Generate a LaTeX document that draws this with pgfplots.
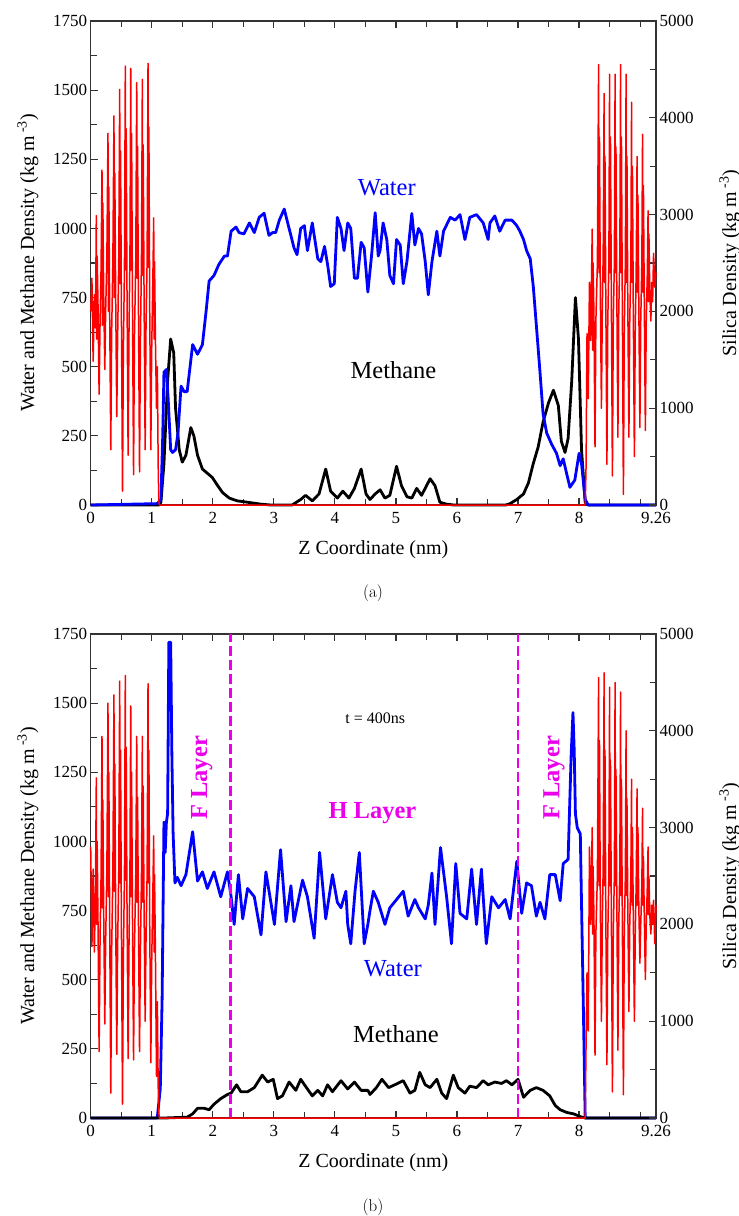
\documentclass[border=0pt]{standalone}
\usepackage{fontspec}
\setmainfont{Liberation Serif}
\newfontfamily\lmfont{Latin Modern Roman}
\usepackage{pgfplots}
\pgfplotsset{compat=1.18}
\definecolor{mag}{RGB}{235,0,235}
\definecolor{wblue}{RGB}{0,0,255}
\definecolor{sred}{RGB}{255,0,0}
\newcommand\fs[1]{\fontsize{#1}{#1}\selectfont}
\pgfplotsset{
 common/.style={scale only axis, width=565.3pt, height=484pt, xmin=0, xmax=9.26,
   clip=false, scaled ticks=false, tick align=inside,
   major tick length=7pt, minor tick length=6pt,
   every tick/.style={line width=1.2pt, black!80},
   tick label style={font=\fs{17}},
   /pgf/number format/assume math mode=true, /pgf/number format/1000 sep={}},
 leftax/.style={common, ymin=0, ymax=1750,
   xtick={0,1,2,3,4,5,6,7,8,9.26},
   minor xtick={0.5,1.5,2.5,3.5,4.5,5.5,6.5,7.5,8.5,9},
   ytick={0,250,500,750,1000,1250,1500,1750},
   minor ytick={125,375,625,875,1125,1375,1625},
   xtick pos=both, xticklabel pos=bottom, ytick pos=left, yticklabel pos=left,
   xticklabel style={yshift=-4pt},
   axis line style={line width=1.5pt, black!80},
   xlabel={Z Coordinate (nm)},
   ylabel={Water and Methane Density (kg m\textsuperscript{ -3})},
   every axis x label/.style={at={(axis description cs:0.5,0)}, anchor=center, yshift=-45pt, font=\fs{20}},
   every axis y label/.style={at={(axis description cs:0,0.5)}, anchor=center, xshift=-62.7pt, rotate=90, font=\fs{20}}},
 rightax/.style={common, ymin=0, ymax=5000, xtick=\empty,
   ytick={0,1000,2000,3000,4000,5000},
   minor ytick={500,1500,2500,3500,4500},
   ytick pos=right, yticklabel pos=right,
   axis line style={draw=none},
   ylabel={Silica Density (kg m\textsuperscript{ -3})},
   every axis y label/.style={at={(axis description cs:1,0.5)}, anchor=center, xshift=74pt, rotate=90, font=\fs{20}}},
}
\begin{document}
\begin{tikzpicture}
\useasboundingbox (0pt,0pt) rectangle (739pt,-1216pt);
% ---------------- Panel (a) ----------------
\begin{axis}[leftax, at={(90.7pt,-21pt)}, anchor=north west]
\addplot[black, line width=2.8pt, line join=round] coordinates {
(0,0)(1.12,0)(1.15,10)(1.20,150)(1.26,450)(1.31,600)(1.36,550)(1.39,350)(1.45,200)(1.50,155)(1.56,180)(1.64,280)(1.69,250)(1.75,180)(1.83,130)(1.91,115)(1.99,100)(2.08,70)(2.16,45)(2.27,25)(2.40,15)(2.57,10)(2.79,3)(2.95,0)(3.30,0)(3.44,20)(3.52,35)(3.63,15)(3.74,40)(3.85,130)(3.93,50)(4.04,25)(4.13,50)(4.23,25)(4.32,60)(4.43,130)(4.51,40)(4.575,20)(4.66,40)(4.74,55)(4.82,25)(4.90,35)(5.01,140)(5.09,70)(5.18,30)(5.26,25)(5.34,60)(5.42,35)(5.56,95)(5.64,70)(5.72,10)(5.83,3)(5.95,0)(6.80,0)(6.87,5)(6.98,20)(7.09,40)(7.17,80)(7.25,150)(7.33,210)(7.41,300)(7.50,370)(7.58,415)(7.66,360)(7.71,230)(7.77,190)(7.82,240)(7.88,450)(7.94,750)(7.99,600)(8.04,200)(8.10,10)(8.15,0)(9.26,0)};
\addplot[wblue, line width=2.8pt, line join=round] coordinates {
(0,0)(1.09,5)(1.15,20)(1.18,250)(1.20,480)(1.24,490)(1.27,380)(1.31,200)(1.34,190)(1.39,200)(1.43,260)(1.48,430)(1.53,410)(1.58,410)(1.67,580)(1.75,545)(1.83,580)(1.89,700)(1.94,810)(2.02,830)(2.10,870)(2.19,900)(2.24,900)(2.30,990)(2.38,1005)(2.43,985)(2.51,980)(2.60,1020)(2.68,985)(2.76,1040)(2.84,1055)(2.92,975)(2.98,985)(3.03,985)(3.09,1030)(3.17,1070)(3.25,1000)(3.33,930)(3.38,905)(3.44,1000)(3.50,1010)(3.55,920)(3.63,1020)(3.72,890)(3.77,880)(3.83,935)(3.88,870)(3.93,790)(3.99,800)(4.04,1040)(4.10,1000)(4.15,920)(4.21,1020)(4.26,1000)(4.32,820)(4.37,820)(4.43,950)(4.48,930)(4.54,770)(4.60,900)(4.66,1057)(4.71,900)(4.74,920)(4.79,1020)(4.85,960)(4.90,830)(4.96,800)(5.01,960)(5.07,940)(5.12,800)(5.18,880)(5.26,1054)(5.31,940)(5.37,1000)(5.42,980)(5.48,880)(5.53,760)(5.59,880)(5.67,990)(5.72,900)(5.78,990)(5.89,1040)(5.97,1030)(6.05,1050)(6.13,960)(6.21,1040)(6.32,1050)(6.43,1020)(6.51,960)(6.54,1020)(6.62,1045)(6.70,990)(6.79,1030)(6.90,1030)(6.98,1010)(7.03,990)(7.09,960)(7.14,920)(7.20,890)(7.25,790)(7.30,650)(7.36,480)(7.41,330)(7.47,260)(7.55,220)(7.63,187)(7.69,142)(7.74,167)(7.80,110)(7.85,64)(7.93,90)(8.00,187)(8.04,150)(8.10,20)(8.15,0)(9.26,0)};
\node[text=wblue, font=\fs{24.5}] at (axis cs:4.85,1146) {Water};
\node[text=black, font=\fs{24.5}] at (axis cs:4.96,488) {Methane};
\end{axis}
\begin{axis}[rightax, at={(90.7pt,-21pt)}, anchor=north west]
\addplot[sred, line width=1.5pt, line join=round] coordinates {
(0.000,2000)(0.020,2343)(0.040,1486)(0.060,2171)(0.078,1829)
(0.092,2989)(0.099,1714)(0.106,2571)(0.120,2057)(0.138,1143)(0.152,1829)(0.170,2457)
(0.185,3460)(0.192,1857)(0.199,3120)(0.213,2171)(0.231,1400)(0.245,2000)(0.265,2571)
(0.283,3840)(0.290,2000)(0.297,3286)(0.311,2000)(0.329,571)(0.343,1771)(0.363,2514)
(0.381,4020)(0.388,2143)(0.395,3429)(0.409,2171)(0.427,914)(0.441,1714)(0.460,2571)
(0.475,4294)(0.482,2286)(0.489,3657)(0.503,2000)(0.521,143)(0.535,1600)(0.553,2457)
(0.567,4534)(0.574,2429)(0.581,3886)(0.595,2171)(0.613,514)(0.627,1771)(0.643,2571)
(0.656,4511)(0.663,2429)(0.670,3837)(0.684,2114)(0.702,314)(0.716,1714)(0.738,2514)
(0.754,4363)(0.761,2343)(0.768,3703)(0.782,2057)(0.800,343)(0.814,1657)(0.832,2571)
(0.846,4397)(0.853,2371)(0.860,3720)(0.874,2171)(0.892,571)(0.906,1829)(0.924,2514)
(0.939,4563)(0.946,2457)(0.953,3906)(0.967,2000)(0.985,571)(0.999,1600)(1.017,2286)
(1.032,2966)(1.039,1714)(1.046,2514)(1.060,1714)(1.078,1000)(1.092,1429)(1.105,429)(1.115,57)(1.125,0)
(8.100,0)(8.115,420)(8.130,1770)(8.150,1100)(8.170,2300)(8.190,1700)
(8.215,2850)(8.222,1600)(8.229,2500)(8.243,2000)(8.261,600)(8.275,1900)(8.300,2500)
(8.320,4550)(8.327,2400)(8.334,3800)(8.348,2200)(8.366,1000)(8.380,2000)(8.395,2600)
(8.410,4250)(8.417,2300)(8.424,3600)(8.438,2100)(8.456,420)(8.470,1900)(8.488,2500)
(8.500,4450)(8.507,2400)(8.514,3800)(8.528,2200)(8.546,300)(8.560,1900)(8.578,2500)
(8.590,4450)(8.597,2400)(8.604,3700)(8.618,2200)(8.636,700)(8.650,2000)(8.668,2600)
(8.680,4550)(8.687,2400)(8.694,3800)(8.708,2100)(8.726,110)(8.740,1800)(8.758,2500)
(8.770,4450)(8.777,2300)(8.784,3600)(8.798,2100)(8.816,700)(8.830,1900)(8.848,2500)
(8.860,4160)(8.867,2300)(8.874,3500)(8.888,2000)(8.906,500)(8.920,1800)(8.935,2400)
(8.950,3600)(8.957,2200)(8.964,3200)(8.978,2100)(8.996,800)(9.010,1900)(9.028,2500)
(9.040,3830)(9.047,2200)(9.054,3300)(9.068,2100)(9.086,770)(9.100,1900)(9.118,2400)
(9.130,3040)(9.137,2100)(9.144,2800)(9.158,2200)(9.176,1900)(9.190,2300)(9.205,2100)(9.220,2600)(9.240,2250)(9.260,2400)};
\end{axis}
% ---------------- Panel (b) ----------------
\begin{axis}[leftax, at={(90.7pt,-634pt)}, anchor=north west]
\addplot[wblue, line width=2.8pt, line join=round] coordinates {
(0,0)(1.09,0)(1.14,106)(1.17,432)(1.20,1070)(1.22,960)(1.24,1070)(1.26,1100)(1.28,1720)(1.31,1720)(1.33,1310)(1.35,1030)(1.38,850)(1.42,870)(1.48,840)(1.56,880)(1.67,1035)(1.75,857)(1.83,890)(1.91,830)(2.02,890)(2.13,800)(2.24,890)(2.30,800)(2.35,700)(2.42,880)(2.49,720)(2.57,830)(2.68,800)(2.79,662)(2.87,890)(3.01,700)(3.11,970)(3.20,710)(3.28,840)(3.33,710)(3.47,860)(3.55,800)(3.66,650)(3.75,960)(3.85,720)(3.96,880)(4.04,780)(4.10,760)(4.18,820)(4.21,700)(4.26,630)(4.33,820)(4.40,960)(4.48,630)(4.54,700)(4.575,750)(4.63,820)(4.71,780)(4.82,700)(4.90,760)(5.01,790)(5.12,820)(5.20,730)(5.31,790)(5.37,760)(5.48,720)(5.53,770)(5.59,886)(5.64,700)(5.73,978)(5.83,800)(5.91,630)(5.98,920)(6.05,740)(6.16,720)(6.24,900)(6.32,700)(6.40,900)(6.48,630)(6.57,800)(6.68,760)(6.79,790)(6.87,720)(6.98,928)(7.06,740)(7.14,850)(7.22,840)(7.30,730)(7.36,780)(7.44,720)(7.52,880)(7.61,880)(7.69,786)(7.74,920)(7.82,935)(7.87,1311)(7.90,1466)(7.92,1330)(7.94,1100)(7.97,1050)(8.02,1027)(8.07,400)(8.10,0)(9.26,0)};
\addplot[black, line width=2.8pt, line join=round] coordinates {
(0,0)(1.20,0)(1.58,3)(1.67,15)(1.75,35)(1.86,35)(1.94,30)(2.02,50)(2.13,70)(2.24,85)(2.30,90)(2.39,120)(2.46,95)(2.57,95)(2.68,110)(2.81,155)(2.90,130)(2.99,140)(3.06,70)(3.14,80)(3.25,130)(3.36,100)(3.44,140)(3.55,105)(3.63,80)(3.72,100)(3.80,80)(3.88,120)(3.96,95)(4.10,135)(4.21,105)(4.32,130)(4.43,100)(4.54,100)(4.575,85)(4.68,110)(4.77,140)(4.88,110)(4.98,120)(5.12,135)(5.23,90)(5.31,100)(5.39,165)(5.48,120)(5.56,110)(5.67,140)(5.75,90)(5.83,70)(5.94,155)(6.02,110)(6.13,90)(6.21,115)(6.32,110)(6.43,135)(6.51,120)(6.62,130)(6.73,125)(6.81,135)(6.90,120)(7.00,140)(7.09,75)(7.20,100)(7.30,110)(7.41,100)(7.52,80)(7.61,45)(7.69,30)(7.80,20)(7.91,15)(8.02,5)(8.10,0)(9.26,0)};
\addplot[mag, line width=2.5pt, dash pattern=on 10pt off 4pt] coordinates {(2.29,0)(2.29,1750)};
\addplot[mag, line width=2.5pt, dash pattern=on 10pt off 4pt] coordinates {(7.0,0)(7.0,1750)};
\node[font=\fs{16}] at (axis cs:4.66,1445) {t = 400ns};
\node[text=mag, font=\fs{24.5}\bfseries] at (axis cs:4.615,1101) {H Layer};
\node[text=mag, font=\fs{24.5}\bfseries, rotate=90] at (axis cs:1.82,1230) {F Layer};
\node[text=mag, font=\fs{24.5}\bfseries, rotate=90] at (axis cs:7.59,1230) {F Layer};
\node[text=wblue, font=\fs{24.5}] at (axis cs:4.95,539) {Water};
\node[text=black, font=\fs{24.5}] at (axis cs:5.0,305) {Methane};
\end{axis}
\begin{axis}[rightax, at={(90.7pt,-634pt)}, anchor=north west]
\addplot[sred, line width=1.5pt, line join=round] coordinates {
(0.000,2800)(0.020,1771)(0.040,2571)(0.060,1714)(0.078,2343)
(0.092,3514)(0.099,2000)(0.106,2857)(0.120,2000)(0.138,686)(0.152,1771)(0.170,2514)
(0.185,3943)(0.192,2171)(0.199,3286)(0.213,2114)(0.231,971)(0.245,1829)(0.265,2571)
(0.283,4286)(0.290,2286)(0.297,3571)(0.311,2057)(0.329,257)(0.343,1714)(0.363,2514)
(0.381,4371)(0.388,2343)(0.395,3657)(0.409,2114)(0.427,657)(0.441,1771)(0.460,2571)
(0.475,4514)(0.482,2429)(0.489,3800)(0.503,2000)(0.521,143)(0.535,1657)(0.553,2514)
(0.567,4571)(0.574,2457)(0.581,3829)(0.595,2171)(0.613,614)(0.627,1771)(0.643,2571)
(0.656,4257)(0.663,2286)(0.670,3571)(0.684,2114)(0.702,600)(0.716,1714)(0.738,2514)
(0.754,3943)(0.761,2229)(0.768,3314)(0.782,2057)(0.800,686)(0.814,1714)(0.832,2514)
(0.846,3943)(0.853,2229)(0.860,3429)(0.874,2171)(0.892,1000)(0.906,1829)(0.924,2514)
(0.939,4486)(0.946,2429)(0.953,3800)(0.967,2000)(0.985,571)(0.999,1600)(1.017,2286)
(1.032,2914)(1.039,1714)(1.046,2514)(1.060,1714)(1.078,429)(1.092,1200)(1.105,343)(1.115,57)(1.125,0)
(8.100,0)(8.115,800)(8.130,1500)(8.150,900)(8.170,2800)(8.190,2000)
(8.215,3000)(8.222,1900)(8.229,2600)(8.243,2100)(8.261,650)(8.275,1900)(8.300,2500)
(8.320,4550)(8.327,2400)(8.334,3900)(8.348,2200)(8.366,1000)(8.380,2000)(8.395,2600)
(8.410,4600)(8.417,2400)(8.424,3800)(8.438,2100)(8.456,550)(8.470,1900)(8.488,2500)
(8.500,4450)(8.507,2400)(8.514,3700)(8.528,2200)(8.546,270)(8.560,1900)(8.578,2500)
(8.590,4500)(8.597,2400)(8.604,3600)(8.618,2300)(8.636,700)(8.650,2000)(8.668,2600)
(8.680,4400)(8.687,2300)(8.694,3500)(8.708,2100)(8.726,240)(8.740,1900)(8.758,2500)
(8.770,4000)(8.777,2300)(8.784,3300)(8.798,2200)(8.816,1100)(8.830,2000)(8.848,2500)
(8.860,3500)(8.867,2200)(8.874,3000)(8.888,2100)(8.906,1000)(8.920,1900)(8.935,2400)
(8.950,3400)(8.957,2200)(8.964,3000)(8.978,2200)(8.996,1600)(9.010,2000)(9.028,2400)
(9.040,3200)(9.047,2200)(9.054,2700)(9.068,2100)(9.086,1430)(9.100,2000)(9.118,2400)
(9.130,2800)(9.137,2100)(9.144,2500)(9.158,2100)(9.176,1900)(9.190,2200)(9.205,2000)(9.220,2250)(9.240,1800)(9.260,2200)};
\end{axis}
\node[font=\lmfont\fs{17}] at (373pt,-593pt) {(a)};
\node[font=\lmfont\fs{17}] at (373pt,-1207pt) {(b)};
\end{tikzpicture}
\end{document}
